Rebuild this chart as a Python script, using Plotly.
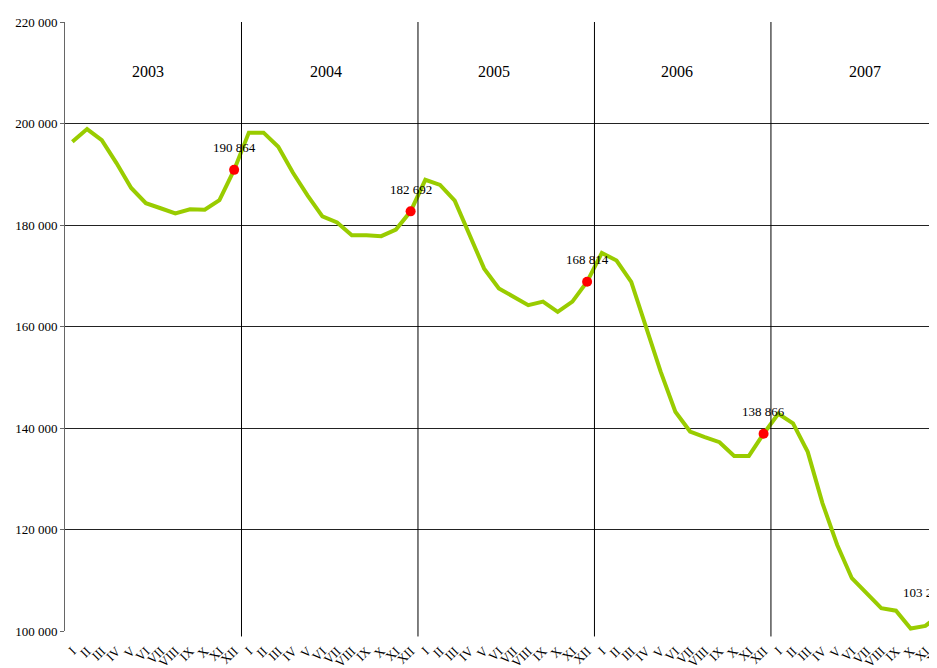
import plotly.graph_objects as go

years = ["2003", "2004", "2005", "2006", "2007"]
months = ["I", "II", "III", "IV", "V", "VI", "VII", "VIII", "IX", "X", "XI", "XII"]

values_2003 = [196400, 198900, 196700, 192200, 187300, 184300, 183300, 182300, 183100, 183000, 184900, 190864]
values_2004 = [198200, 198200, 195400, 190300, 185800, 181700, 180500, 178000, 178000, 177800, 179100, 182692]
values_2005 = [188900, 187900, 184800, 178000, 171400, 167500, 165900, 164200, 164900, 162900, 164900, 168814]
values_2006 = [174500, 173000, 168800, 160100, 151100, 143200, 139300, 138200, 137200, 134500, 134500, 138866]
values_2007 = [142800, 140900, 135300, 125200, 117000, 110400, 107400, 104500, 104000, 100500, 101000, 103245]

series = values_2003 + values_2004 + values_2005 + values_2006 + values_2007
n = len(series)
xs = list(range(n))
tick_text = months * len(years)

dec_idx = [12 * k + 11 for k in range(len(years))]
dec_vals = [series[i] for i in dec_idx]

# pixel nudges for the year captions (as placed in the original)
year_label_shift = [-5, -4, -12, -6, 6]

def fmt(v):
    return f"{v:,}".replace(",", " ")

serif = "Liberation Serif, Times New Roman, serif"

fig = go.Figure()
fig.add_trace(go.Scatter(
    x=xs, y=series, mode="lines",
    line=dict(color="#99CC00", width=4),
    hoverinfo="skip", showlegend=False,
))
fig.add_trace(go.Scatter(
    x=dec_idx, y=dec_vals, mode="markers",
    marker=dict(color="#FF0000", size=10),
    cliponaxis=False, hoverinfo="skip", showlegend=False,
))

annotations = []
for k, (i, v) in enumerate(zip(dec_idx, dec_vals)):
    annotations.append(dict(
        x=i, y=v, text=fmt(v), showarrow=False, yshift=22,
        xshift=(-16 if k == len(years) - 1 else 0),
        font=dict(family=serif, size=13, color="#000000"),
    ))
for k, yr in enumerate(years):
    annotations.append(dict(
        x=12 * k + 5.5, y=0.9195, xref="x", yref="paper", text=yr,
        yanchor="middle", xanchor="center", xshift=year_label_shift[k],
        showarrow=False, font=dict(family=serif, size=16, color="#000000"),
    ))

shapes = []
for k in range(1, len(years)):
    shapes.append(dict(
        type="line", xref="x", yref="paper",
        x0=12 * k - 0.5, x1=12 * k - 0.5, y0=-0.009, y1=1,
        line=dict(color="#000000", width=1),
    ))

fig.update_layout(
    width=949, height=660,
    margin=dict(l=57, r=0, t=14, b=37, autoexpand=False),
    paper_bgcolor="white", plot_bgcolor="white",
    separators=". ",
    annotations=annotations, shapes=shapes,
    xaxis=dict(
        range=[-0.5, 60.15], tickmode="array", tickvals=xs, ticktext=tick_text,
        tickangle=-45, showgrid=False, zeroline=False,
        showline=False, ticks="", automargin=False,
        tickfont=dict(family=serif, size=13, color="#000000"),
        ticklabelstandoff=9,
    ),
    yaxis=dict(
        range=[100000, 220000], dtick=20000, tickformat=",d",
        showgrid=True, gridcolor="#222222", gridwidth=1,
        zeroline=False, showline=True, linecolor="#666666", linewidth=1,
        ticks="outside", ticklen=4, tickcolor="#666666",
        automargin=False,
        tickfont=dict(family=serif, size=13, color="#000000"),
    ),
)

fig.write_html("out.html")
